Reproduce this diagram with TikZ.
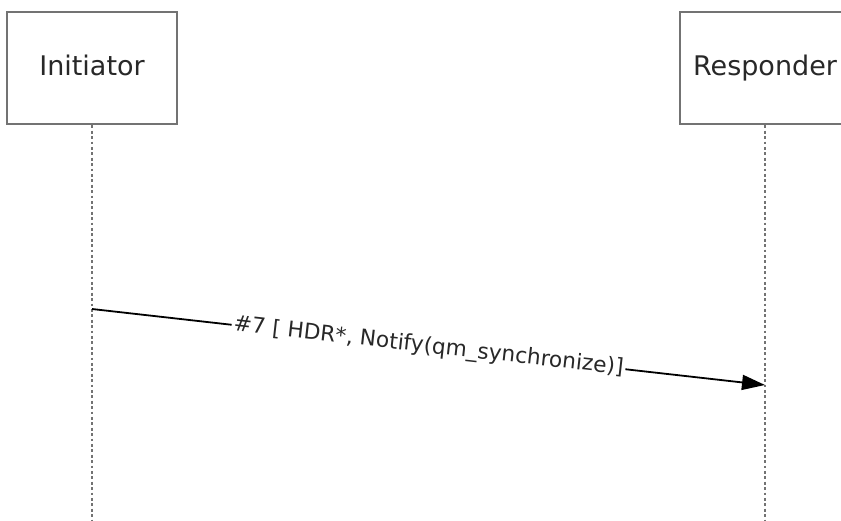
\documentclass[tikz,border=0pt]{standalone}
\usepackage{fontspec}
\setmainfont{DejaVu Sans}
\usetikzlibrary{arrows.meta}
\definecolor{boxgray}{RGB}{115,115,115}
\definecolor{txt}{RGB}{40,40,40}
\begin{document}
\begin{tikzpicture}[x=1pt,y=-1pt,
  actor/.style={draw=boxgray,line width=2.6pt,fill=white,minimum width=170pt,minimum height=112pt,inner sep=0pt,
    font=\fontsize{27}{32}\selectfont,text=txt,text height=20pt,text depth=6pt},
  lifeline/.style={draw=boxgray,line width=2.8pt,dash pattern=on 2.8pt off 2.6pt},
  msg/.style={draw=black,line width=1.8pt,-{Triangle[length=23pt,width=15pt]}},
  msglabel/.style={fill=white,inner xsep=2pt,inner ysep=1pt,font=\fontsize{21.7}{26}\selectfont,text=txt,sloped}]
\useasboundingbox (0,0) rectangle (841,520);
\node[actor] (ini) at (92,68) {Initiator};
\node[actor] (res) at (765,68) {Responder};
\coordinate (iniend) at (92,522);
\coordinate (resend) at (765,522);
\draw[lifeline] (ini.south) -- (iniend);
\draw[lifeline] (res.south) -- (resend);
\coordinate (a1) at (92,309);
\coordinate (a2) at (765,385);
\draw[msg] (a1) -- node[msglabel] {\#7 [ HDR*, Notify(qm\_synchronize)]} (a2);
\end{tikzpicture}
\end{document}
